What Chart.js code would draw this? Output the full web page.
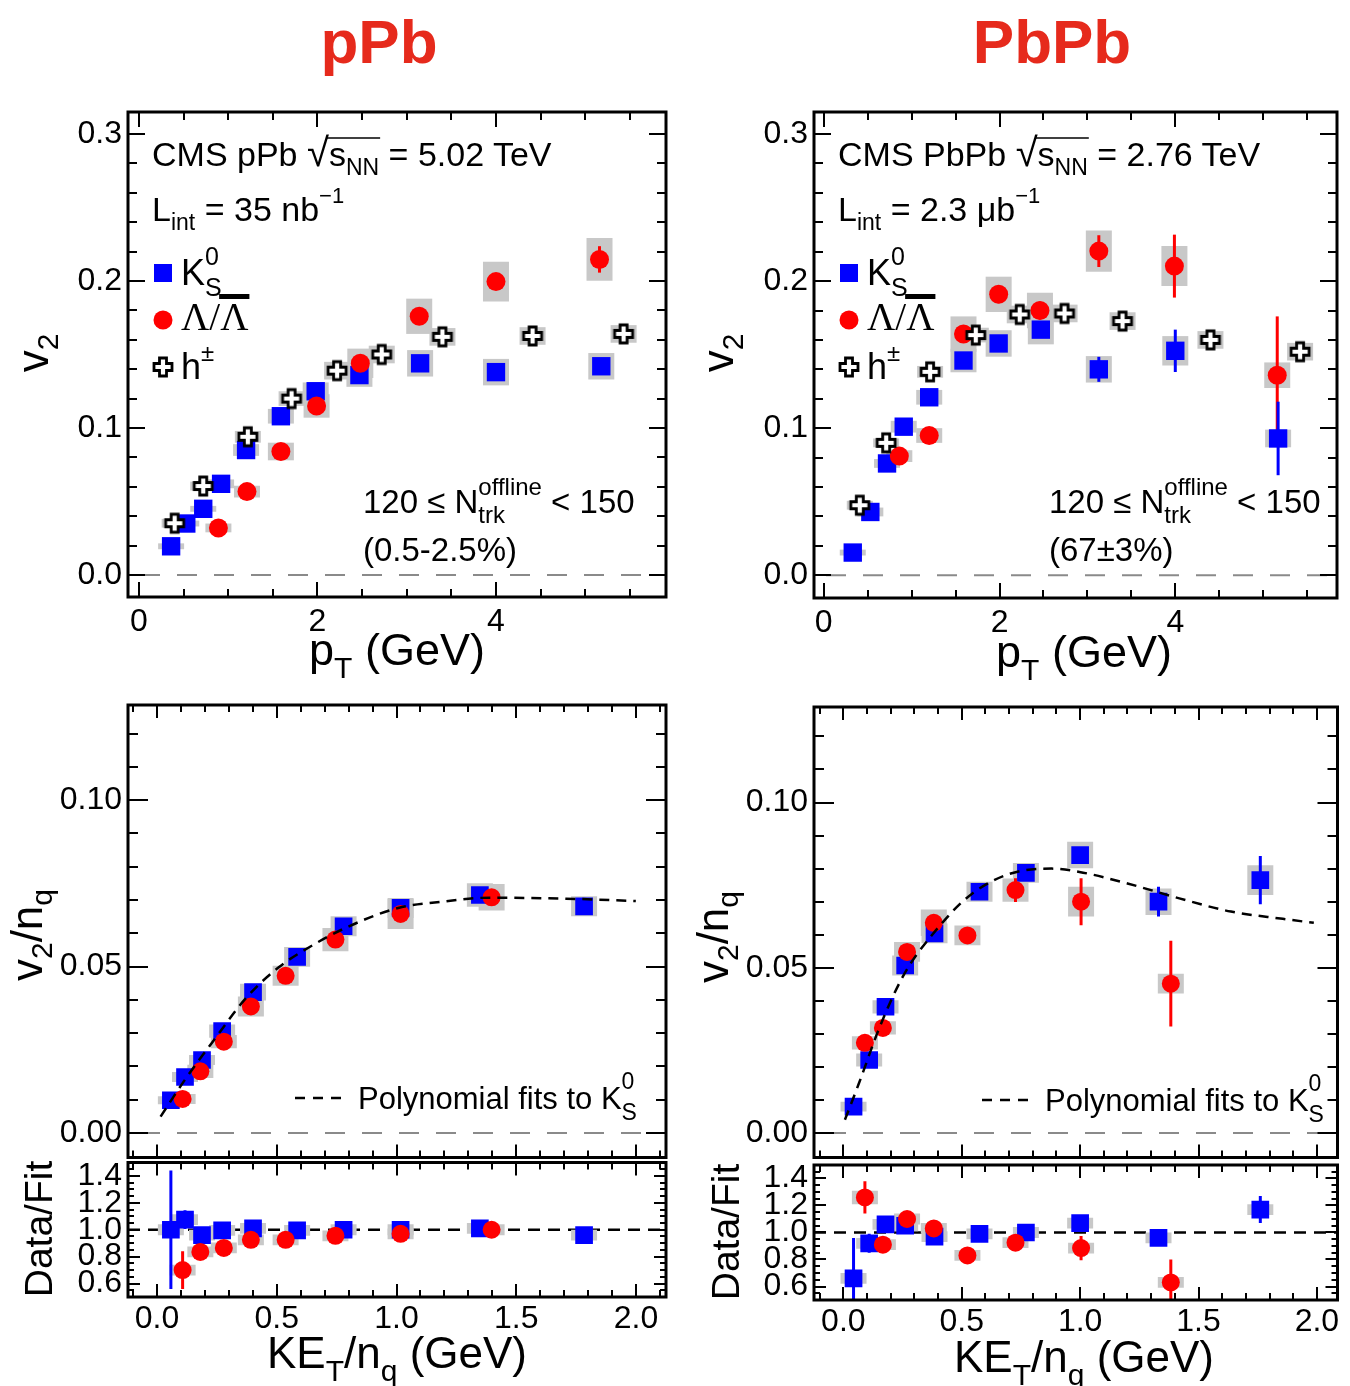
<!DOCTYPE html>
<html><head><meta charset="utf-8">
<script src="https://cdn.jsdelivr.net/npm/chart.js@4.4.1/dist/chart.umd.min.js"></script>
<style>
html,body{margin:0;padding:0;background:#fff}
body{width:1350px;height:1386px;position:relative;overflow:hidden}
canvas{position:absolute}
#ov{position:absolute;left:0;top:0;width:1350px;height:1386px;pointer-events:none;z-index:10}
#ov text{white-space:pre}
</style></head><body>
<svg id="ov" width="1350" height="1386" xmlns="http://www.w3.org/2000/svg"></svg>
<script>
// ================= DATA =================
// tick labels
const PT_TICKS = [0, 2, 4];
const V2_TICKS = [0, 0.1, 0.2, 0.3];
const KET_TICKS = [0, 0.5, 1.0, 1.5, 2.0];
const V2NQ_TICKS = [0, 0.05, 0.10];
const RATIO_TICKS = [0.6, 0.8, 1.0, 1.2, 1.4];

// ---- pPb : v2 vs pT ----
const pPb_K0S_pt   = [0.36, 0.53, 0.72, 0.92, 1.20, 1.59, 1.98, 2.47, 3.15, 4.00, 5.18];
const pPb_K0S_v2   = [0.0195, 0.035, 0.045, 0.062, 0.085, 0.108, 0.125, 0.136, 0.144, 0.138, 0.142];
const pPb_K0S_stat = [0.004, 0.001, 0.001, 0.001, 0.001, 0.001, 0.001, 0.001, 0.001, 0.002, 0.003];
const pPb_K0S_sys  = [0.002, 0.002, 0.002, 0.003, 0.004, 0.005, 0.006, 0.008, 0.009, 0.009, 0.009];

const pPb_Lam_pt   = [0.89, 1.21, 1.59, 1.99, 2.48, 3.14, 4.00, 5.16];
const pPb_Lam_v2   = [0.032, 0.0567, 0.084, 0.115, 0.144, 0.176, 0.1996, 0.2147];
const pPb_Lam_stat = [0.001, 0.001, 0.001, 0.001, 0.002, 0.003, 0.004, 0.009];
const pPb_Lam_sys  = [0.003, 0.004, 0.006, 0.008, 0.010, 0.012, 0.0135, 0.0145];

const pPb_h_pt     = [0.40, 0.72, 1.22, 1.71, 2.22, 2.72, 3.40, 4.41, 5.43];
const pPb_h_v2     = [0.0352, 0.0605, 0.094, 0.120, 0.139, 0.150, 0.162, 0.1626, 0.164];
const pPb_h_sys    = [0.003, 0.003, 0.004, 0.005, 0.006, 0.006, 0.006, 0.006, 0.006];

// ---- PbPb : v2 vs pT ----
const PbPb_K0S_pt   = [0.33, 0.53, 0.72, 0.91, 1.20, 1.59, 1.99, 2.47, 3.13, 4.00, 5.17];
const PbPb_K0S_v2   = [0.0154, 0.043, 0.076, 0.101, 0.121, 0.146, 0.1576, 0.167, 0.140, 0.1526, 0.093];
const PbPb_K0S_stat = [0.002, 0.001, 0.001, 0.001, 0.001, 0.002, 0.003, 0.004, 0.0085, 0.0144, 0.025];
const PbPb_K0S_sys  = [0.002, 0.003, 0.003, 0.004, 0.005, 0.008, 0.009, 0.010, 0.009, 0.010, 0.006];

const PbPb_Lam_pt   = [0.86, 1.20, 1.59, 1.99, 2.46, 3.13, 3.99, 5.16];
const PbPb_Lam_v2   = [0.081, 0.095, 0.164, 0.191, 0.180, 0.2204, 0.2102, 0.136];
const PbPb_Lam_stat = [0.002, 0.002, 0.004, 0.006, 0.006, 0.0108, 0.0214, 0.040];
const PbPb_Lam_sys  = [0.004, 0.005, 0.012, 0.012, 0.012, 0.014, 0.0136, 0.0087];

const PbPb_h_pt     = [0.41, 0.71, 1.21, 1.73, 2.23, 2.74, 3.40, 4.40, 5.42];
const PbPb_h_v2     = [0.0476, 0.090, 0.1383, 0.1633, 0.1773, 0.178, 0.1728, 0.160, 0.152];
const PbPb_h_sys    = [0.003, 0.003, 0.004, 0.005, 0.006, 0.006, 0.006, 0.006, 0.006];

// ---- pPb : v2/nq vs KET/nq ----
const pPb_K0S_ket    = [0.058, 0.117, 0.188, 0.272, 0.401, 0.585, 0.779, 1.017, 1.348, 1.783];
const pPb_K0S_v2nq   = [0.0098, 0.0168, 0.0219, 0.0306, 0.0423, 0.0529, 0.0621, 0.0676, 0.0715, 0.0681];
const pPb_K0S_nqstat = [0.0015, 0.0004, 0.0003, 0.0003, 0.0003, 0.0003, 0.0003, 0.0004, 0.0005, 0.0008];
const pPb_K0S_nqsys  = [0.0012, 0.0015, 0.0015, 0.002, 0.0025, 0.003, 0.003, 0.003, 0.0035, 0.003];
const pPb_Lam_ket    = [0.107, 0.181, 0.279, 0.392, 0.537, 0.745, 1.017, 1.397];
const pPb_Lam_v2nq   = [0.0102, 0.0185, 0.0274, 0.038, 0.0472, 0.0581, 0.0658, 0.0708];
const pPb_Lam_nqstat = [0.0005, 0.0003, 0.0003, 0.0003, 0.0003, 0.0004, 0.0005, 0.001];
const pPb_Lam_nqsys  = [0.0015, 0.002, 0.002, 0.003, 0.003, 0.0035, 0.0045, 0.004];
const pPb_fit_ket    = [0.015, 0.117, 0.243, 0.375, 0.507, 0.610, 0.787, 1.007, 1.169, 1.389, 1.757, 1.999];
const pPb_fit_v2nq   = [0.0049, 0.016, 0.0284, 0.0408, 0.0497, 0.0547, 0.0616, 0.0676, 0.0693, 0.0707, 0.0703, 0.0697];
const pPb_K0S_ratio      = [1.00, 1.075, 0.96, 0.995, 1.01, 0.995, 1.00, 1.00, 1.01, 0.96];
const pPb_K0S_ratio_stat = [0.44, 0.07, 0.02, 0.01, 0.01, 0.01, 0.01, 0.01, 0.01, 0.01];
const pPb_K0S_ratio_sys  = [0.04, 0.04, 0.04, 0.04, 0.04, 0.04, 0.04, 0.04, 0.04, 0.04];
const pPb_Lam_ratio      = [0.70, 0.835, 0.865, 0.925, 0.925, 0.955, 0.97, 1.00];
const pPb_Lam_ratio_stat = [0.14, 0.03, 0.01, 0.01, 0.01, 0.01, 0.01, 0.02];
const pPb_Lam_ratio_sys  = [0.04, 0.04, 0.04, 0.04, 0.04, 0.04, 0.04, 0.04];

// ---- PbPb : v2/nq vs KET/nq ----
const PbPb_K0S_ket    = [0.043, 0.109, 0.178, 0.261, 0.385, 0.575, 0.771, 1.000, 1.331, 1.761];
const PbPb_K0S_v2nq   = [0.008, 0.0221, 0.0382, 0.0507, 0.0604, 0.073, 0.0787, 0.0841, 0.070, 0.0765];
const PbPb_K0S_nqstat = [0.001, 0.0005, 0.0005, 0.0005, 0.0005, 0.0005, 0.001, 0.002, 0.0045, 0.0073];
const PbPb_K0S_nqsys  = [0.0015, 0.002, 0.002, 0.003, 0.003, 0.003, 0.003, 0.004, 0.004, 0.0045];
const PbPb_Lam_ket    = [0.091, 0.167, 0.269, 0.382, 0.524, 0.727, 1.004, 1.383];
const PbPb_Lam_v2nq   = [0.0273, 0.0318, 0.0548, 0.0636, 0.0598, 0.0735, 0.070, 0.0452];
const PbPb_Lam_nqstat = [0.001, 0.001, 0.001, 0.001, 0.001, 0.0036, 0.0071, 0.013];
const PbPb_Lam_nqsys  = [0.002, 0.002, 0.003, 0.004, 0.003, 0.0035, 0.0045, 0.003];
const PbPb_fit_ket    = [0.0066, 0.065, 0.152, 0.254, 0.371, 0.545, 0.763, 0.880, 0.997, 1.20, 1.419, 1.637, 1.856, 1.987];
const PbPb_fit_v2nq   = [0.004, 0.0149, 0.0318, 0.0477, 0.0596, 0.0725, 0.0795, 0.080, 0.079, 0.0755, 0.071, 0.067, 0.0648, 0.0636];
const PbPb_K0S_ratio      = [0.66, 0.92, 1.06, 1.05, 0.97, 0.99, 1.00, 1.07, 0.96, 1.17];
const PbPb_K0S_ratio_stat = [0.30, 0.07, 0.02, 0.02, 0.02, 0.02, 0.02, 0.03, 0.03, 0.10];
const PbPb_K0S_ratio_sys  = [0.04, 0.04, 0.04, 0.04, 0.04, 0.04, 0.04, 0.04, 0.04, 0.04];
const PbPb_Lam_ratio      = [1.26, 0.91, 1.10, 1.03, 0.83, 0.925, 0.885, 0.63];
const PbPb_Lam_ratio_stat = [0.12, 0.03, 0.03, 0.03, 0.02, 0.03, 0.09, 0.17];
const PbPb_Lam_ratio_sys  = [0.05, 0.04, 0.04, 0.04, 0.04, 0.04, 0.04, 0.04];

// ================= STYLE / HELPERS =================
const BLUE = '#0000ff', RED = '#ff0000', SYSC = '#c8c8c8';
const FONT = "'Liberation Sans', Arial, Helvetica, sans-serif";
const SERIF = "'Liberation Serif', 'Times New Roman', serif";
const TICKFONT = 32;
Chart.defaults.font.family = FONT;
Chart.defaults.color = '#000';

const crossImg = (() => {
  const c = document.createElement('canvas'); c.width = 26; c.height = 26;
  const g = c.getContext('2d'); const a = 9, b = 3.5, o = 13;
  const p = [[-b,-a],[b,-a],[b,-b],[a,-b],[a,b],[b,b],[b,a],[-b,a],[-b,b],[-a,b],[-a,-b],[-b,-b]];
  g.beginPath(); p.forEach(([x,y],i)=> i ? g.lineTo(o+x,o+y) : g.moveTo(o+x,o+y)); g.closePath();
  g.fillStyle = '#fff'; g.fill(); g.lineWidth = 2.8; g.strokeStyle = '#000'; g.stroke();
  return c;
})();

const xy = (xs, ys) => xs.map((x, i) => ({x, y: ys[i]}));
const band = (xs, ys, e) => xs.map((x, i) => ({x, y: [ys[i] - e[i], ys[i] + e[i]]}));
const sysDs = (xs, ys, e) => ({type:'bar', data: band(xs, ys, e), backgroundColor: SYSC, barThickness: 26, grouped: false, borderWidth: 0, inflateAmount: 0, order: 20});
const errDs = (xs, ys, e, col) => ({type:'bar', data: band(xs, ys, e), backgroundColor: col, barThickness: 3, grouped: false, borderWidth: 0, inflateAmount: 0, order: 10});
const ptDs = (xs, ys, style, col, r, order) => ({type:'scatter', data: xy(xs, ys), pointStyle: style, pointRadius: r, pointHoverRadius: r, backgroundColor: col, borderColor: col, borderWidth: 0, order});
const fitDs = (xs, ys) => ({type:'line', data: xy(xs, ys), borderColor:'#000', borderWidth: 2.5, borderDash:[10,7], pointRadius: 0, cubicInterpolationMode:'monotone', fill:false, order: 0});

// Frame, inner ticks (all four sides) and reference line
const framePlugin = {
  id: 'frameTicks',
  beforeDatasetsDraw(chart, args, o) {
    if (o.refValue === undefined) return;
    const {ctx, chartArea: a, scales: {y}} = chart;
    const py = y.getPixelForValue(o.refValue);
    ctx.save(); ctx.strokeStyle = o.refColor; ctx.lineWidth = o.refWidth; ctx.setLineDash(o.refDash);
    ctx.beginPath(); ctx.moveTo(a.left + (o.refStart || 0), py); ctx.lineTo(a.right, py); ctx.stroke(); ctx.restore();
  },
  afterDraw(chart, args, o) {
    const {ctx, chartArea: a, scales: {x, y}} = chart;
    ctx.save(); ctx.strokeStyle = '#000'; ctx.lineWidth = 2; ctx.lineCap = 'butt';
    const isMaj = (v, st) => Math.abs(v / st - Math.round(v / st)) < 1e-6;
    ctx.beginPath();
    for (let v = Math.ceil(x.min / o.xMin - 1e-9) * o.xMin; v <= x.max + 1e-9; v += o.xMin) {
      const px = Math.round(x.getPixelForValue(v));
      const L = isMaj(v, o.xMaj) ? o.xMajLen : o.xMinLen;
      ctx.moveTo(px, a.bottom); ctx.lineTo(px, a.bottom - L);
      ctx.moveTo(px, a.top); ctx.lineTo(px, a.top + L);
    }
    for (let v = Math.ceil(y.min / o.yMin - 1e-9) * o.yMin; v <= y.max + 1e-9; v += o.yMin) {
      const py = Math.round(y.getPixelForValue(v));
      const L = isMaj(v, o.yMaj) ? o.yMajLen : o.yMinLen;
      ctx.moveTo(a.left, py); ctx.lineTo(a.left + L, py);
      ctx.moveTo(a.right, py); ctx.lineTo(a.right - L, py);
    }
    ctx.stroke();
    ctx.lineWidth = 3; ctx.strokeRect(a.left, a.top, a.right - a.left, a.bottom - a.top);
    ctx.restore();
  }
};

function panel(cv, fr, cfg) {
  const c = document.createElement('canvas');
  c.width = cv.w; c.height = cv.h; c.style.left = cv.l + 'px'; c.style.top = cv.t + 'px';
  document.body.appendChild(c);
  const yW = fr.l - cv.l, xH = cv.t + cv.h - fr.b, pt = fr.t - cv.t, pr = cv.l + cv.w - fr.r;
  return new Chart(c, {
    type: 'scatter',
    data: {datasets: cfg.datasets},
    options: {
      responsive: false, animation: false, devicePixelRatio: 1, events: [],
      layout: {padding: {top: pt, right: pr, left: 0, bottom: 0}},
      plugins: {legend: {display: false}, tooltip: {enabled: false}, frameTicks: cfg.ft},
      scales: {
        x: {
          type: 'linear', min: cfg.xr[0], max: cfg.xr[1], offset: false,
          grid: {display: false, drawTicks: false}, border: {display: false},
          ticks: {display: cfg.xLabels, autoSkip: false, maxRotation: 0, padding: cfg.xPad || 6,
                  font: {size: TICKFONT}, color: '#000', callback: v => Number(v).toFixed(cfg.xDig)},
          afterBuildTicks: s => { s.ticks = cfg.xTicks.map(v => ({value: v})); },
          afterFit: s => { s.height = xH; s.paddingLeft = 0; s.paddingRight = 0; }
        },
        y: {
          type: 'linear', min: cfg.yr[0], max: cfg.yr[1],
          grid: {display: false, drawTicks: false}, border: {display: false},
          ticks: {autoSkip: false, padding: cfg.yPad || 6, font: {size: TICKFONT}, color: '#000',
                  callback: v => Number(v).toFixed(cfg.yDig)},
          afterBuildTicks: s => { s.ticks = cfg.yTicks.map(v => ({value: v})); },
          afterFit: s => { s.width = yW; s.paddingTop = 0; s.paddingBottom = 0; }
        }
      }
    },
    plugins: [framePlugin]
  });
}

const ftTop = {xMaj: 2, xMin: 0.5, xMajLen: 15, xMinLen: 8, yMaj: 0.1, yMin: 0.02, yMajLen: 17, yMinLen: 9,
               refValue: 0, refColor: '#8a8a8a', refWidth: 2, refDash: [20, 17], refStart: 12};
const ftMain = {xMaj: 0.5, xMin: 0.1, xMajLen: 13, xMinLen: 7, yMaj: 0.05, yMin: 0.01, yMajLen: 20, yMinLen: 10,
               refValue: 0, refColor: '#8a8a8a', refWidth: 2, refDash: [20, 17], refStart: 12};
const ftRatio = {xMaj: 0.5, xMin: 0.1, xMajLen: 13, xMinLen: 7, yMaj: 0.2, yMin: 0.05, yMajLen: 12, yMinLen: 6,
               refValue: 1, refColor: '#000', refWidth: 2.5, refDash: [12, 8], refStart: 0};

// ---- top-left: pPb v2 ----
panel({l:0, t:95, w:690, h:560}, {l:128, t:112, r:666, b:597}, {
  xr: [-0.123, 5.905], yr: [-0.015, 0.315], xTicks: PT_TICKS, yTicks: V2_TICKS, xDig: 0, yDig: 1, xLabels: true, xPad: 6, ft: ftTop,
  datasets: [
    sysDs(pPb_K0S_pt, pPb_K0S_v2, pPb_K0S_sys), sysDs(pPb_Lam_pt, pPb_Lam_v2, pPb_Lam_sys), sysDs(pPb_h_pt, pPb_h_v2, pPb_h_sys),
    errDs(pPb_K0S_pt, pPb_K0S_v2, pPb_K0S_stat, BLUE), errDs(pPb_Lam_pt, pPb_Lam_v2, pPb_Lam_stat, RED),
    ptDs(pPb_K0S_pt, pPb_K0S_v2, 'rect', BLUE, 13, 3), ptDs(pPb_Lam_pt, pPb_Lam_v2, 'circle', RED, 9.5, 2),
    ptDs(pPb_h_pt, pPb_h_v2, crossImg, '#000', 10, 1)
  ]
});
// ---- top-right: PbPb v2 ----
panel({l:690, t:95, w:660, h:560}, {l:814, t:112, r:1348, b:598}, {
  xr: [-0.111, 5.84], yr: [-0.0155, 0.315], xTicks: PT_TICKS, yTicks: V2_TICKS, xDig: 0, yDig: 1, xLabels: true, xPad: 6, ft: ftTop,
  datasets: [
    sysDs(PbPb_K0S_pt, PbPb_K0S_v2, PbPb_K0S_sys), sysDs(PbPb_Lam_pt, PbPb_Lam_v2, PbPb_Lam_sys), sysDs(PbPb_h_pt, PbPb_h_v2, PbPb_h_sys),
    errDs(PbPb_K0S_pt, PbPb_K0S_v2, PbPb_K0S_stat, BLUE), errDs(PbPb_Lam_pt, PbPb_Lam_v2, PbPb_Lam_stat, RED),
    ptDs(PbPb_K0S_pt, PbPb_K0S_v2, 'rect', BLUE, 13, 3), ptDs(PbPb_Lam_pt, PbPb_Lam_v2, 'circle', RED, 9.5, 2),
    ptDs(PbPb_h_pt, PbPb_h_v2, crossImg, '#000', 10, 1)
  ]
});
// ---- bottom-left main ----
panel({l:0, t:690, w:690, h:480}, {l:128, t:705, r:666, b:1162}, {
  xr: [-0.121, 2.125], yr: [-0.0074, 0.1286], xTicks: KET_TICKS, yTicks: V2NQ_TICKS, xDig: 1, yDig: 2, xLabels: false, ft: ftMain,
  datasets: [
    sysDs(pPb_K0S_ket, pPb_K0S_v2nq, pPb_K0S_nqsys), sysDs(pPb_Lam_ket, pPb_Lam_v2nq, pPb_Lam_nqsys),
    errDs(pPb_K0S_ket, pPb_K0S_v2nq, pPb_K0S_nqstat, BLUE), errDs(pPb_Lam_ket, pPb_Lam_v2nq, pPb_Lam_nqstat, RED),
    ptDs(pPb_K0S_ket, pPb_K0S_v2nq, 'rect', BLUE, 12.5, 3), ptDs(pPb_Lam_ket, pPb_Lam_v2nq, 'circle', RED, 9, 2),
    fitDs(pPb_fit_ket, pPb_fit_v2nq)
  ]
});
// ---- bottom-left ratio ----
panel({l:0, t:1150, w:690, h:236}, {l:128, t:1162, r:666, b:1297}, {
  xr: [-0.121, 2.125], yr: [0.5, 1.5], xTicks: KET_TICKS, yTicks: RATIO_TICKS, xDig: 1, yDig: 1, xLabels: true, xPad: 3, ft: ftRatio,
  datasets: [
    sysDs(pPb_K0S_ket, pPb_K0S_ratio, pPb_K0S_ratio_sys), sysDs(pPb_Lam_ket, pPb_Lam_ratio, pPb_Lam_ratio_sys),
    errDs(pPb_K0S_ket, pPb_K0S_ratio, pPb_K0S_ratio_stat, BLUE), errDs(pPb_Lam_ket, pPb_Lam_ratio, pPb_Lam_ratio_stat, RED),
    ptDs(pPb_K0S_ket, pPb_K0S_ratio, 'rect', BLUE, 12.5, 3), ptDs(pPb_Lam_ket, pPb_Lam_ratio, 'circle', RED, 9, 2)
  ]
});
// ---- bottom-right main ----
panel({l:690, t:690, w:660, h:480}, {l:814, t:707, r:1347, b:1165}, {
  xr: [-0.124, 2.087], yr: [-0.0074, 0.1289], xTicks: KET_TICKS, yTicks: V2NQ_TICKS, xDig: 1, yDig: 2, xLabels: false, ft: ftMain,
  datasets: [
    sysDs(PbPb_K0S_ket, PbPb_K0S_v2nq, PbPb_K0S_nqsys), sysDs(PbPb_Lam_ket, PbPb_Lam_v2nq, PbPb_Lam_nqsys),
    errDs(PbPb_K0S_ket, PbPb_K0S_v2nq, PbPb_K0S_nqstat, BLUE), errDs(PbPb_Lam_ket, PbPb_Lam_v2nq, PbPb_Lam_nqstat, RED),
    ptDs(PbPb_K0S_ket, PbPb_K0S_v2nq, 'rect', BLUE, 12.5, 3), ptDs(PbPb_Lam_ket, PbPb_Lam_v2nq, 'circle', RED, 9, 2),
    fitDs(PbPb_fit_ket, PbPb_fit_v2nq)
  ]
});
// ---- bottom-right ratio ----
panel({l:690, t:1150, w:660, h:236}, {l:814, t:1165, r:1347, b:1300}, {
  xr: [-0.124, 2.087], yr: [0.5, 1.5], xTicks: KET_TICKS, yTicks: RATIO_TICKS, xDig: 1, yDig: 1, xLabels: true, xPad: 3, ft: ftRatio,
  datasets: [
    sysDs(PbPb_K0S_ket, PbPb_K0S_ratio, PbPb_K0S_ratio_sys), sysDs(PbPb_Lam_ket, PbPb_Lam_ratio, PbPb_Lam_ratio_sys),
    errDs(PbPb_K0S_ket, PbPb_K0S_ratio, PbPb_K0S_ratio_stat, BLUE), errDs(PbPb_Lam_ket, PbPb_Lam_ratio, PbPb_Lam_ratio_stat, RED),
    ptDs(PbPb_K0S_ket, PbPb_K0S_ratio, 'rect', BLUE, 12.5, 3), ptDs(PbPb_Lam_ket, PbPb_Lam_ratio, 'circle', RED, 9, 2)
  ]
});

// ================= TEXT OVERLAY (SVG) =================
const NS = 'http://www.w3.org/2000/svg';
const ov = document.getElementById('ov');
function el(parent, tag, attrs) { const e = document.createElementNS(NS, tag); for (const k in attrs) e.setAttribute(k, attrs[k]); parent.appendChild(e); return e; }
function txt(parent, x, y, s, size, o = {}) {
  const e = el(parent, 'text', {x, y, 'font-size': size, 'font-family': o.family || FONT, fill: o.color || '#000'});
  if (o.weight) e.setAttribute('font-weight', o.weight);
  e.setAttributeNS('http://www.w3.org/XML/1998/namespace', 'xml:space', 'preserve');
  e.textContent = s; return e;
}
function rich(parent, x, y, runs, size, o = {}) {
  let cx = x; const marks = {};
  for (const r of runs) {
    const sz = r.size || size;
    const oo = Object.assign({}, o, r.family ? {family: r.family} : {});
    if (r.stack) {
      const a = txt(parent, cx, y + r.supDy, r.sup, sz, oo);
      const b = txt(parent, cx, y + r.subDy, r.sub, sz, oo);
      cx += Math.max(a.getComputedTextLength(), b.getComputedTextLength());
    } else {
      const e = txt(parent, cx, y + (r.dy || 0), r.t, sz, oo);
      const w = e.getComputedTextLength();
      if (r.mark) marks[r.mark] = [cx, cx + w];
      cx += w;
    }
  }
  return {w: cx - x, marks};
}
function centered(cx, y, runs, size, o) { const g = el(ov, 'g', {}); const r = rich(g, 0, 0, runs, size, o); g.setAttribute('transform', `translate(${cx - r.w / 2},${y})`); return r; }
function rotated(bx, cy, runs, size, o) { const g = el(ov, 'g', {}); const r = rich(g, 0, 0, runs, size, o); g.setAttribute('transform', `translate(${bx},${cy}) rotate(-90) translate(${-r.w / 2},0)`); return r; }

// titles
centered(379, 63, [{t: 'pPb'}], 62, {weight: 'bold', color: '#e62a1c'});
centered(1052, 63, [{t: 'PbPb'}], 62, {weight: 'bold', color: '#e62a1c'});

function crossPath(cx, cy) {
  const a = 9, b = 3.5;
  const p = [[-b,-a],[b,-a],[b,-b],[a,-b],[a,b],[b,b],[b,a],[-b,a],[-b,b],[-a,b],[-a,-b],[-b,-b]];
  return 'M' + p.map(([x, y]) => (cx + x) + ' ' + (cy + y)).join(' L') + ' Z';
}

function topAnnot(dx, sys, energy, lumi, unit, cent) {
  const r1 = rich(ov, 152 + dx, 166, [{t: 'CMS ' + sys + ' '}, {t: '√', size: 40, mark: 'rad'}, {t: 's', mark: 's'}, {t: 'NN', size: 23, dy: 9, mark: 'nn'}, {t: ' = ' + energy + ' TeV'}], 34);
  el(ov, 'line', {x1: r1.marks.rad[1] - 2, x2: r1.marks.nn[1] + 1, y1: 138, y2: 138, stroke: '#000', 'stroke-width': 1.5});
  rich(ov, 152 + dx, 221, [{t: 'L'}, {t: 'int', size: 23, dy: 9}, {t: ' = ' + lumi + ' ' + unit}, {t: '−1', size: 22, dy: -18}], 34);
  // legend
  el(ov, 'rect', {x: 154 + dx, y: 264, width: 18, height: 18, fill: BLUE});
  rich(ov, 181 + dx, 285, [{t: 'K'}, {stack: true, sup: '0', sub: 'S', supDy: -20, subDy: 11, size: 25}], 36);
  el(ov, 'circle', {cx: 163 + dx, cy: 320, r: 9.5, fill: RED});
  const r2 = rich(ov, 181 + dx, 330, [{t: 'Λ/', family: SERIF}, {t: 'Λ', family: SERIF, mark: 'lb'}], 39);
  el(ov, 'rect', {x: r2.marks.lb[0] - 1, y: 294, width: r2.marks.lb[1] - r2.marks.lb[0] + 2, height: 5, fill: '#000'});
  el(ov, 'path', {d: crossPath(163 + dx, 367), fill: '#fff', stroke: '#000', 'stroke-width': 2.8});
  rich(ov, 181 + dx, 379, [{t: 'h'}, {t: '±', size: 24, dy: -18}], 36);
  rich(ov, 363 + dx, 513, [{t: '120 ≤ N'}, {stack: true, sup: 'offline', sub: 'trk', supDy: -18, subDy: 10, size: 24}, {t: ' < 150'}], 33);
  rich(ov, 363 + dx, 561, [{t: cent}], 33);
}
topAnnot(0, 'pPb', '5.02', '35', 'nb', '(0.5-2.5%)');
topAnnot(686, 'PbPb', '2.76', '2.3', 'μb', '(67±3%)');

// axis titles
const SUB = 30;
rotated(48, 353, [{t: 'v'}, {t: '2', size: SUB, dy: 10}], 44);
rotated(733, 353, [{t: 'v'}, {t: '2', size: SUB, dy: 10}], 44);
centered(397, 665, [{t: 'p'}, {t: 'T', size: SUB, dy: 13}, {t: ' (GeV)'}], 45);
centered(1084, 667, [{t: 'p'}, {t: 'T', size: SUB, dy: 13}, {t: ' (GeV)'}], 45);
rotated(42, 935, [{t: 'v'}, {t: '2', size: SUB, dy: 10}, {t: '/n'}, {t: 'q', size: SUB, dy: 10}], 44);
rotated(728, 937, [{t: 'v'}, {t: '2', size: SUB, dy: 10}, {t: '/n'}, {t: 'q', size: SUB, dy: 10}], 44);
rotated(52, 1229, [{t: 'Data/Fit'}], 39);
rotated(739, 1232, [{t: 'Data/Fit'}], 39);
centered(397, 1368, [{t: 'KE'}, {t: 'T', size: SUB, dy: 13}, {t: '/n'}, {t: 'q', size: SUB, dy: 13}, {t: ' (GeV)'}], 44);
centered(1084, 1372, [{t: 'KE'}, {t: 'T', size: SUB, dy: 13}, {t: '/n'}, {t: 'q', size: SUB, dy: 13}, {t: ' (GeV)'}], 44);

// fit legend
function fitLegend(x0, y0) {
  el(ov, 'line', {x1: x0, x2: x0 + 52, y1: y0 - 11, y2: y0 - 11, stroke: '#000', 'stroke-width': 2.5, 'stroke-dasharray': '10 8'});
  rich(ov, x0 + 63, y0, [{t: 'Polynomial fits to K'}, {stack: true, sup: '0', sub: 'S', supDy: -20, subDy: 11, size: 23}], 31);
}
fitLegend(295, 1109);
fitLegend(982, 1111);
</script>
</body></html>
